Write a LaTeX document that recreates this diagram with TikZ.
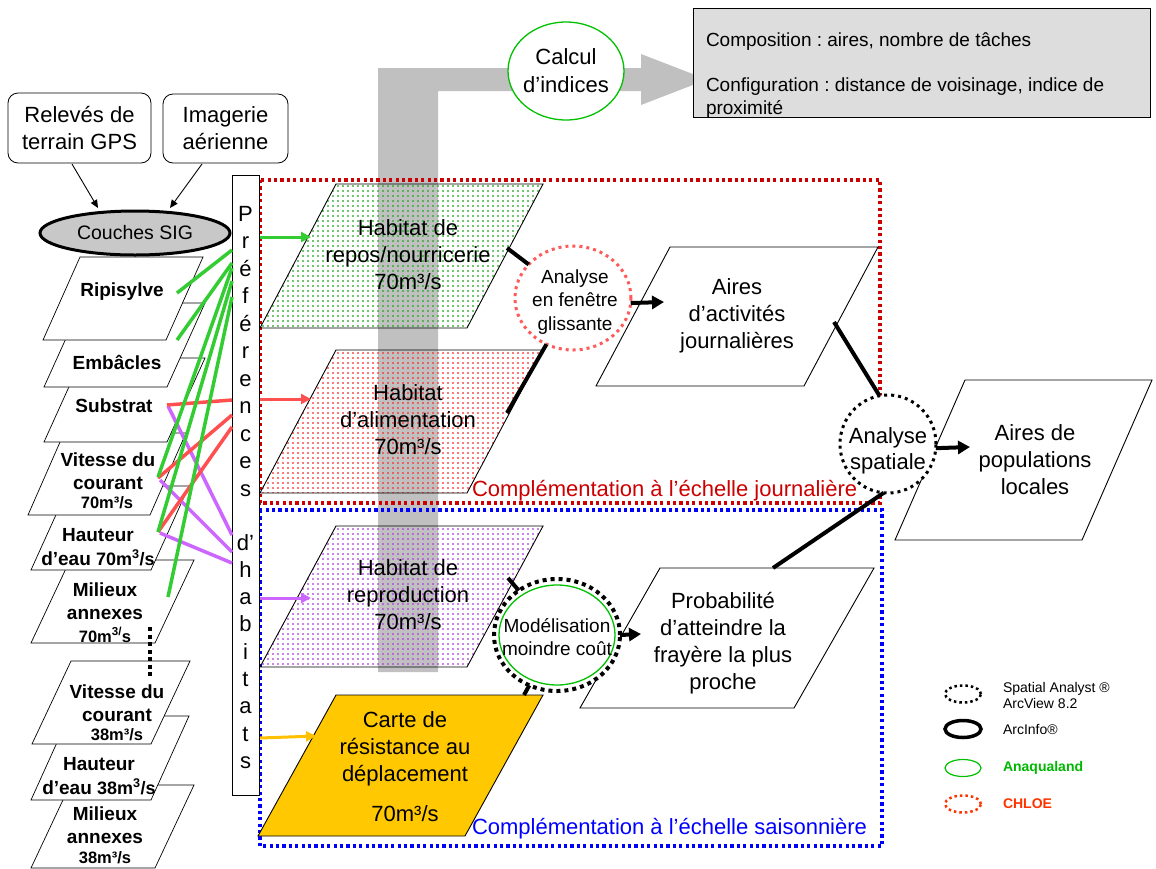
\documentclass[tikz,border=0pt]{standalone}
\usepackage{fontspec}
\setmainfont{Liberation Sans}
\usetikzlibrary{shapes.geometric,arrows.meta,patterns}
\frenchspacing
\definecolor{lgreen}{HTML}{33CC33}
\definecolor{lred}{HTML}{FF5050}
\definecolor{lpurple}{HTML}{CC66FF}
\definecolor{dred}{HTML}{CC0000}
\definecolor{dblue}{HTML}{0000FF}
\definecolor{arrgray}{HTML}{C0C0C0}
\definecolor{boxgray}{HTML}{DDDDDD}
\definecolor{sigray}{HTML}{C8C8C8}
\definecolor{ellgreen}{HTML}{00C000}
\definecolor{cartey}{HTML}{FFC800}
\definecolor{yarrow}{HTML}{FFC000}
\definecolor{fenred}{HTML}{FF5A5A}
\definecolor{chloe}{HTML}{FF3300}
\definecolor{anagreen}{HTML}{00B800}
\definecolor{dotgreen}{HTML}{22AA22}
\definecolor{dotred}{HTML}{FF3030}
\definecolor{dotpurple}{HTML}{B040E0}
\newcommand\myfs[2]{\fontsize{#1}{#2}\selectfont}
\pgfdeclarepatternformonly{griddots}{\pgfqpoint{0pt}{0pt}}{\pgfqpoint{4.5pt}{4.5pt}}{\pgfqpoint{4.5pt}{4.5pt}}{\pgfpathrectangle{\pgfqpoint{1.2pt}{1.5pt}}{\pgfqpoint{2pt}{1.5pt}}\pgfusepath{fill}}
\newcommand\para[6]{\path[#6] (#1,#2) -- ({#1+#3},#2) -- ({#1+#3-#5},{#2+#4}) -- ({#1-#5},{#2+#4}) -- cycle;}
\tikzset{
 stackbox/.style={draw=black, fill=white, line width=0.7pt},
 parabox/.style={draw=black, fill=white, line width=0.9pt},
 stxt/.style={font=\myfs{19}{23.5}\bfseries, align=center},
 stxs/.style={font=\myfs{16.5}{19}\bfseries, align=center},
 htxt/.style={font=\myfs{22}{27}, align=center},
 gline/.style={draw=lgreen, line width=3.5pt},
 rline/.style={draw=lred, line width=3.5pt},
 pline/.style={draw=lpurple, line width=3.5pt},
 conn/.style={draw=black, line width=4pt},
 bigarrow/.style={draw=black, line width=4pt, -{Triangle[length=12pt,width=13pt]}},
 colarrow/.style={line width=3pt, -{Triangle[length=10pt,width=10pt]}},
 thinarrow/.style={draw=black, line width=0.9pt, -{Triangle[length=8pt,width=7pt]}},
 reddots/.style={draw=dred, line width=3.2pt, dash pattern=on 3.2pt off 3.2pt},
 bluedots/.style={draw=dblue, line width=3.2pt, dash pattern=on 3.2pt off 3.2pt},
 fenell/.style={ellipse, draw=fenred, fill=white, line width=3pt, dash pattern=on 3pt off 4pt, minimum width=116pt, minimum height=104pt},
 spatell/.style={ellipse, draw=black, fill=white, line width=3pt, dash pattern=on 3pt off 4pt, minimum width=96pt, minimum height=98pt},
 moddots/.style={ellipse, draw=black, fill=white, line width=4pt, dash pattern=on 4pt off 4pt, minimum width=126pt, minimum height=112pt},
 modgreen/.style={ellipse, draw=ellgreen, line width=1.3pt, minimum width=116pt, minimum height=100pt},
 calcell/.style={ellipse, draw=ellgreen, fill=white, line width=1.3pt, minimum width=116pt, minimum height=98pt},
 pletter/.style={font=\myfs{22}{26}, anchor=base},
 legell/.style={ellipse, minimum width=36pt, minimum height=17pt},
}
\begin{document}
\begin{tikzpicture}[x=1pt,y=-1pt,inner sep=0pt,outer sep=0pt]
\useasboundingbox (0,0) rectangle (1156,868);
% big gray arrow
\fill[arrgray] (378,672) -- (378,68) -- (641,68) -- (641,54) -- (707,79.5) -- (641,105) -- (641,91) -- (438,91) -- (438,672) -- cycle;
% index box
\node[draw, fill=boxgray, line width=0.8pt, minimum width=457pt, minimum height=109pt, anchor=north west] (ind) at (693,8) {};
\node[anchor=north west, align=left, font=\myfs{19}{22.5}] (indtxt) at (706,33) {Composition : aires, nombre de tâches\\[22.5pt]Configuration : distance de voisinage, indice de\\proximité};
% frames
\draw[reddots] (260,180) rectangle (880,503);
\draw[bluedots] (260,510) rectangle (882,846);
% habitats
\para{336}{184}{207}{144}{76}{draw=black, line width=0.9pt, pattern=griddots, pattern color=dotgreen}
\para{336}{350}{207}{143}{76}{draw=black, line width=0.9pt, pattern=griddots, pattern color=dotred}
\para{336}{526}{207}{141}{76}{draw=black, line width=0.9pt, pattern=griddots, pattern color=dotpurple}
\para{336}{695}{207}{141}{78}{draw=black, line width=0.9pt, fill=cartey}
% results
\para{670}{247}{208}{139}{74}{parabox}
\para{660}{568}{214}{140}{80}{parabox}
\para{965}{380}{187}{160}{70}{parabox}
% texts of frames
\node[anchor=west, font=\myfs{22}{26}, text=dred] (cj) at (472,491) {Complémentation à l’échelle journalière};
\node[anchor=west, font=\myfs{22}{26}, text=dblue] (cs) at (472,829) {Complémentation à l’échelle saisonnière};
% ellipses
\node[fenell] (fen) at (573,298) {};
\node[spatell] (spat) at (888,444) {};
\node[moddots] (mod2) at (557,635) {};
\node[modgreen] (mod) at (557,635) {};
\node[calcell] (calc) at (566,71) {};
% connectors
\coordinate (reposE) at (507,248);
\coordinate (alimE) at (507,413);
\coordinate (actW) at (664,302);
\coordinate (actE) at (834,322);
\coordinate (probN) at (773,568);
\coordinate (probW) at (641,634);
\coordinate (popW) at (970,447);
\coordinate (reproE) at (508,578);
\coordinate (carteN) at (524,695);
\draw[conn] (reposE) -- (fen);
\draw[conn] (alimE) -- (fen);
\draw[bigarrow] (fen.355) -- (actW);
\draw[conn] (actE) -- (spat.100);
\draw[conn] (probN) -- (spat.265);
\draw[bigarrow] (spat.355) -- (popW);
\draw[conn] (reproE) -- (mod2);
\draw[conn] (carteN) -- (mod2);
\draw[bigarrow] (mod2.east) -- (probW);
% texts
\node[font=\myfs{19}{23.5}, align=center] (fentxt) at (575,302) {Analyse\\en fenêtre\\glissante};
\node[font=\myfs{22}{26}, align=center] (spattxt) at (888,451) {Analyse\\spatiale};
\node[font=\myfs{19}{22.5}, align=center] (modtxt) at (557,637) {Modélisation\\moindre coût};
\node[font=\myfs{22}{28}, align=center] (calctxt) at (566,71) {Calcul\\d’indices};
\node[htxt] (reposT) at (408,255) {Habitat de\\repos/nourricerie\\70m³/s};
\node[htxt] (alimT) at (408,420) {Habitat\\d’alimentation\\70m³/s};
\node[htxt] (reproT) at (408,595) {Habitat de\\reproduction\\70m³/s};
\node[htxt] (carteT) at (405,749) {Carte de\\résistance au\\déplacement};
\node[htxt] (carteT2) at (405,814) {70m³/s};
\node[htxt] (actT) at (737,316) {Aires\\d’activités\\journalières};
\node[htxt] (probT) at (723,643) {Probabilité\\d’atteindre la\\frayère la plus\\proche};
\node[htxt] (popT) at (1035,460) {Aires de\\populations\\locales};
% sources
\node[draw, rounded corners=10pt, line width=0.8pt, minimum width=143pt, minimum height=70pt, align=center, font=\myfs{22}{27}] (rel) at (79.5,128) {Relevés de\\terrain GPS};
\node[draw, rounded corners=10pt, line width=0.8pt, minimum width=125pt, minimum height=69pt, align=center, font=\myfs{22}{27}] (img) at (225.5,128.5) {Imagerie\\aérienne};
\node[ellipse, draw, line width=3pt, fill=sigray, minimum width=190pt, minimum height=44pt, font=\myfs{19.5}{22}] (sig) at (135,233) {Couches SIG};
\coordinate (relOut) at (72,164);
\coordinate (sigIn1) at (98,208);
\coordinate (imgOut) at (202,164);
\coordinate (sigIn2) at (170,208);
\draw[thinarrow] (relOut) -- (sigIn1);
\draw[thinarrow] (imgOut) -- (sigIn2);
% stack of layers
\para{70}{785}{124}{83}{39}{stackbox}
\para{69}{716}{120}{84}{38}{stackbox}
\para{71}{661}{119}{83}{39}{stackbox}
\para{70}{560}{124}{83}{39}{stackbox}
\para{69}{486}{120}{84}{38}{stackbox}
\para{64}{433}{122}{82}{36}{stackbox}
\para{82}{358}{123}{84}{38}{stackbox}
\para{82}{303}{123}{84}{38}{stackbox}
\para{80}{257}{123}{83}{37}{stackbox}
\node[stxt] (tripi) at (122,292) {Ripisylve};
\node[stxt] (temb) at (117,362) {Embâcles};
\node[stxt] (tsub) at (114,406) {Substrat};
\node[stxt] (tvit70) at (108,471) {Vitesse du\\courant};
\node[stxs] (tvit70b) at (107,503) {70m³/s};
\node[stxt] (thau70) at (98,547) {Hauteur\\d’eau {\myfs{18}{20}70m\textsuperscript{3}/s}};
\node[stxt] (tmil70) at (105,601) {Milieux\\annexes};
\node[stxs] (tmil70b) at (105,635) {70m\textsuperscript{3/}s};
\node[stxt] (tvit38) at (117,703) {Vitesse du\\courant};
\node[stxs] (tvit38b) at (117,735) {38m³/s};
\node[stxt] (thau38) at (99,776) {Hauteur\\d’eau {\myfs{18}{20}38m\textsuperscript{3}/s}};
\node[stxt] (tmil38) at (105,825) {Milieux\\annexes};
\node[stxs] (tmil38b) at (105,858) {38m³/s};
\coordinate (dotA) at (150,627);
\coordinate (dotB) at (150,678);
\draw[line width=4pt, dash pattern=on 4pt off 3.5pt] (dotA) -- (dotB);
% preferences column
\node[draw, fill=white, line width=0.8pt, minimum width=27pt, minimum height=620pt, anchor=north west] (pref) at (232,175) {};
\foreach \c [count=\i] in {P,r,é,f,é,r,e,n,c,e,s}
  \node[pletter] (pa\i) at (245.5,{221+27.5*(\i-1)}) {\c};
\foreach \c [count=\i] in {d’,h,a,b,i,t,a,t,s}
  \node[pletter] (pb\i) at (245.5,{550+27.3*(\i-1)}) {\c};
% coloured links layer -> preferences
\coordinate (pS1) at (168,406); \coordinate (pE1) at (232,535);
\coordinate (pS2) at (160,480); \coordinate (pE2) at (232,552);
\coordinate (pS3) at (160,533); \coordinate (pE3) at (232,563);
\coordinate (rS1) at (167,405); \coordinate (rE1) at (232,400);
\coordinate (rS2) at (158,478); \coordinate (rE2) at (232,415);
\coordinate (rS3) at (158,532); \coordinate (rE3) at (232,427);
\coordinate (gS1) at (177,293); \coordinate (gE1) at (232,250);
\coordinate (gS2) at (177,340); \coordinate (gE2) at (232,263);
\coordinate (gS3) at (158,477); \coordinate (gE3) at (232,268);
\coordinate (gS4) at (158,532); \coordinate (gE4) at (232,281);
\coordinate (gS5) at (168,597); \coordinate (gE5) at (232,297);
\foreach \i in {1,2,3} \draw[pline] (pS\i) -- (pE\i);
\foreach \i in {1,2,3} \draw[rline] (rS\i) -- (rE\i);
\foreach \i in {1,...,5} \draw[gline] (gS\i) -- (gE\i);
% preferences -> habitats
\coordinate (prefG) at (260,237); \coordinate (reposW) at (311,237);
\coordinate (prefR) at (260,399); \coordinate (alimW) at (311,399);
\coordinate (prefP) at (260,598); \coordinate (reproW) at (311,598);
\coordinate (prefY) at (260,738); \coordinate (carteW) at (316,736);
\draw[colarrow, lgreen] (prefG) -- (reposW);
\draw[colarrow, lred] (prefR) -- (alimW);
\draw[colarrow, lpurple] (prefP) -- (reproW);
\draw[colarrow, yarrow] (prefY) -- (carteW);
% legend
\node[legell, draw=black, line width=2.5pt, dash pattern=on 2.5pt off 3pt] (lg1) at (963,694) {};
\node[anchor=west, align=left, font=\myfs{14}{16}] (lt1) at (1003,695) {Spatial Analyst ®\\ArcView 8.2};
\node[legell, draw=black, line width=3.5pt] (lg2) at (963,729) {};
\node[anchor=west, font=\myfs{14}{16}] (lt2) at (1003,729) {ArcInfo®};
\node[legell, draw=ellgreen, line width=1.2pt] (lg3) at (963,768) {};
\node[anchor=west, font=\myfs{14}{16}\bfseries, text=anagreen] (lt3) at (1003,768) {Anaqualand};
\node[legell, draw=chloe, line width=2.5pt, dash pattern=on 2.5pt off 3pt] (lg4) at (963,804) {};
\node[anchor=west, font=\myfs{14}{16}\bfseries, text=chloe] (lt4) at (1003,804) {CHLOE};
\end{tikzpicture}
\end{document}
